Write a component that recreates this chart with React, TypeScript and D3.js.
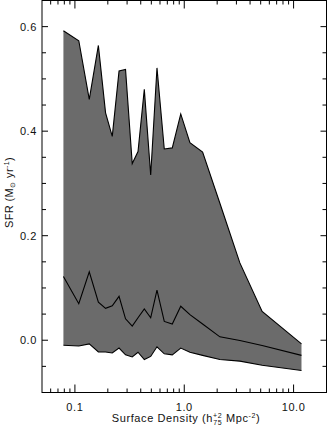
import React from "react";
import * as d3 from "d3";

const density = [0.0785, 0.1085, 0.1353, 0.1639, 0.1907, 0.2196, 0.2533, 0.2904, 0.3344, 0.3777, 0.4312, 0.4933, 0.5631, 0.6566, 0.7772, 0.9289, 1.127, 1.472, 2.118, 3.226, 5.157, 11.81];
const sfrUpper = [0.592, 0.573, 0.461, 0.564, 0.435, 0.390, 0.515, 0.518, 0.338, 0.361, 0.480, 0.316, 0.521, 0.366, 0.368, 0.433, 0.378, 0.360, 0.262, 0.148, 0.055, -0.007];
const sfrMedian = [0.122, 0.070, 0.131, 0.073, 0.061, 0.066, 0.084, 0.041, 0.027, 0.043, 0.060, 0.043, 0.096, 0.036, 0.031, 0.065, 0.049, 0.031, 0.0065, -0.0006, -0.010, -0.029];
const sfrLower = [-0.0096, -0.011, -0.007, -0.0225, -0.0225, -0.0245, -0.015, -0.028, -0.032, -0.023, -0.037, -0.031, -0.0126, -0.026, -0.028, -0.015, -0.023, -0.029, -0.037, -0.040, -0.048, -0.058];

const xMajorTicks = [0.1, 1, 10];
const xTickLabels = ["0.1", "1.0", "10.0"];
const yMajorTicks = [0, 0.2, 0.4, 0.6];
const yTickLabels = ["0.0", "0.2", "0.4", "0.6"];

const W = 327;
const H = 427;
const L = 42, R = 326.5, T = 0.5, B = 392.5;
const FONT = "'Liberation Sans', Arial, sans-serif";

export default function App() {
  const x = d3.scaleLog().domain([0.05, 20]).range([L, R]);
  const y = d3.scaleLinear().domain([-0.1, 0.65]).range([B, T]);

  const pts = density.map((d, i) => ({ d, u: sfrUpper[i], m: sfrMedian[i], l: sfrLower[i] }));
  const area = d3.area<any>().x((p) => x(p.d)).y0((p) => y(p.l)).y1((p) => y(p.u));
  const lineU = d3.line<any>().x((p) => x(p.d)).y((p) => y(p.u));
  const lineM = d3.line<any>().x((p) => x(p.d)).y((p) => y(p.m));
  const lineL = d3.line<any>().x((p) => x(p.d)).y((p) => y(p.l));

  const xMinor: number[] = [];
  [0.01, 0.1, 1, 10].forEach((dec) => {
    for (let k = 2; k <= 9; k++) {
      const v = dec * k;
      if (v > 0.05 && v < 20) xMinor.push(v);
    }
  });
  const yMinor: number[] = [];
  for (let v = -0.05; v < 0.65; v += 0.05) {
    const r = Math.round(v * 100) / 100;
    if (Math.abs((r * 100) % 20) > 1e-6) yMinor.push(r);
  }

  const tickStroke = { stroke: "#000", strokeWidth: 1 };

  return (
    <svg width={W} height={H} style={{ position: "absolute", left: 0, top: 0, background: "#fff" }}>
      <path d={area(pts) || ""} fill="#6b6b6b" stroke="none" />
      <path d={lineU(pts) || ""} fill="none" stroke="#000" strokeWidth={1.1} />
      <path d={lineM(pts) || ""} fill="none" stroke="#000" strokeWidth={1.1} />
      <path d={lineL(pts) || ""} fill="none" stroke="#000" strokeWidth={1.1} />

      {/* frame */}
      <rect x={L} y={T} width={R - L} height={B - T} fill="none" stroke="#000" strokeWidth={1} />

      {/* x ticks */}
      {xMajorTicks.map((v) => (
        <g key={"xM" + v}>
          <line x1={x(v)} x2={x(v)} y1={B} y2={B - 8} {...tickStroke} />
          <line x1={x(v)} x2={x(v)} y1={T} y2={T + 8} {...tickStroke} />
        </g>
      ))}
      {xMinor.map((v) => (
        <g key={"xm" + v}>
          <line x1={x(v)} x2={x(v)} y1={B} y2={B - 4} {...tickStroke} />
          <line x1={x(v)} x2={x(v)} y1={T} y2={T + 4} {...tickStroke} />
        </g>
      ))}
      {/* y ticks */}
      {yMajorTicks.map((v) => (
        <g key={"yM" + v}>
          <line x1={L} x2={L + 6} y1={y(v)} y2={y(v)} {...tickStroke} />
          <line x1={R} x2={R - 6} y1={y(v)} y2={y(v)} {...tickStroke} />
        </g>
      ))}
      {yMinor.map((v) => (
        <g key={"ym" + v}>
          <line x1={L} x2={L + 4} y1={y(v)} y2={y(v)} {...tickStroke} />
          <line x1={R} x2={R - 4} y1={y(v)} y2={y(v)} {...tickStroke} />
        </g>
      ))}

      {/* tick labels */}
      {xMajorTicks.map((v, i) => (
        <text key={"xl" + v} x={x(v)} y={411} textAnchor="middle" fontFamily={FONT} fontSize={11} letterSpacing={0.6} fill="#111">
          {xTickLabels[i]}
        </text>
      ))}
      {yMajorTicks.map((v, i) => (
        <text key={"yl" + v} x={37} y={y(v) + 4} textAnchor="end" fontFamily={FONT} fontSize={11} letterSpacing={0.6} fill="#111">
          {yTickLabels[i]}
        </text>
      ))}

      {/* x title */}
      <text x={186} y={422} textAnchor="middle" fontFamily={FONT} fontSize={11} letterSpacing={0.6} fill="#111">
        Surface Density (h
        <tspan fontSize={7} dy={-4}>+2</tspan>
        <tspan fontSize={7} dx={-9} dy={7}>75</tspan>
        <tspan dy={-3}> Mpc</tspan>
        <tspan fontSize={7} dy={-4}>-2</tspan>
        <tspan dy={4}>)</tspan>
      </text>

      {/* y title */}
      <text transform={`translate(13,${(T + B) / 2 - 4}) rotate(-90)`} textAnchor="middle" fontFamily={FONT} fontSize={11} letterSpacing={0.4} fill="#111">
        SFR (M
        <tspan fontSize={7} dy={2}>⊙</tspan>
        <tspan dy={-2}> yr</tspan>
        <tspan fontSize={7} dy={-4}>-1</tspan>
        <tspan dy={4}>)</tspan>
      </text>
    </svg>
  );
}
